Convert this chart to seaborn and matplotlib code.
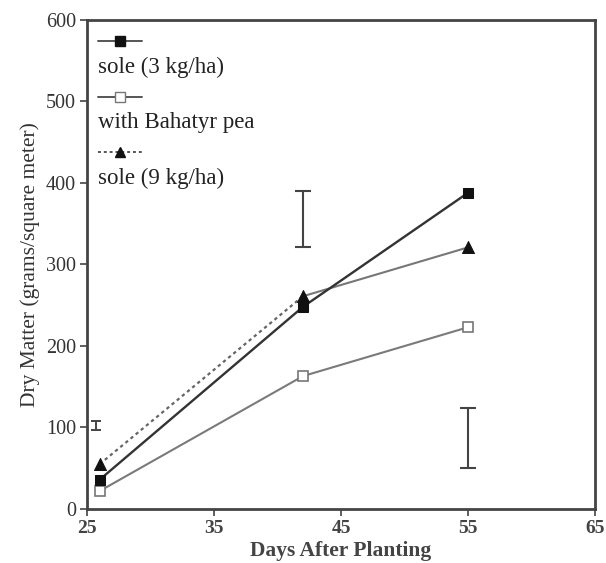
import pandas as pd
import seaborn as sns
import matplotlib.pyplot as plt

# Data
days = [26, 42, 55]
sole_3 = [36, 248, 388]
with_pea = [22, 163, 223]
sole_9 = [55, 261, 321]

# LSD bars
lsd_days = [25.7, 42, 55]
lsd_low = [97, 321, 50]
lsd_high = [108, 390, 124]

x_ticks = [25, 35, 45, 55, 65]
y_ticks = [0, 100, 200, 300, 400, 500, 600]

sns.set_style("white")
plt.rcParams['font.family'] = ['Liberation Serif', 'DejaVu Serif']

fig = plt.figure(figsize=(6.06, 5.63), dpi=100)
ax = fig.add_axes([0.1436, 0.096, 0.8384, 0.8685])

df3 = pd.DataFrame({'day': days, 'dm': sole_3})
dfp = pd.DataFrame({'day': days, 'dm': with_pea})
df9 = pd.DataFrame({'day': days, 'dm': sole_9})

sns.lineplot(data=dfp, x='day', y='dm', ax=ax, color='#7a7a7a', lw=1.5,
             marker='s', markersize=7, markerfacecolor='white',
             markeredgecolor='#777777', markeredgewidth=1.2)
# triangle series: dotted first segment, solid afterwards
sns.lineplot(data=df9.iloc[:2], x='day', y='dm', ax=ax, color='#666666', lw=1.6,
             linestyle=(0, (1.5, 1.5)))
sns.lineplot(data=df9.iloc[1:], x='day', y='dm', ax=ax, color='#777777', lw=1.5)
sns.scatterplot(data=df9, x='day', y='dm', ax=ax, marker='^', s=75,
                color='#111111', edgecolor='#111111', zorder=5)
sns.lineplot(data=df3, x='day', y='dm', ax=ax, color='#333333', lw=1.7,
             marker='s', markersize=7, markerfacecolor='#111111',
             markeredgecolor='#111111')

# LSD bars (the first one is drawn narrower)
mid = [(a + b) / 2 for a, b in zip(lsd_low, lsd_high)]
half = [(b - a) / 2 for a, b in zip(lsd_low, lsd_high)]
ax.errorbar(lsd_days[:1], mid[:1], yerr=half[:1], fmt='none', ecolor='#444444',
            elinewidth=1.4, capsize=3.5, capthick=1.4)
ax.errorbar(lsd_days[1:], mid[1:], yerr=half[1:], fmt='none', ecolor='#444444',
            elinewidth=1.5, capsize=6, capthick=1.5)

ax.set_xlim(25, 65)
ax.set_ylim(0, 600)
ax.set_xticks(x_ticks)
ax.set_yticks(y_ticks)
ax.set_xticklabels([str(t) for t in x_ticks], fontsize=14, fontweight='bold',
                   color='#444444')
ax.set_yticklabels([str(t) for t in y_ticks], fontsize=14.5, color='#333333')
ax.tick_params(direction='out', length=5, width=1.2, color='#444444',
               bottom=True, left=True, pad=3)
for sp in ax.spines.values():
    sp.set_linewidth(2)
    sp.set_color('#444444')

ax.set_xlabel('Days After Planting', fontsize=15.5, fontweight='bold',
              color='#444444', labelpad=3)
ax.set_ylabel('Dry Matter (grams/square meter)', fontsize=15.5,
              color='#333333', labelpad=4)

# legend: sample line above each label
entries = [
    ('sole (3 kg/ha)', 's', '#111111', '#111111', '-', 0.958, 0.904),
    ('with Bahatyr pea', 's', 'white', '#777777', '-', 0.842, 0.791),
    ('sole (9 kg/ha)', '^', '#111111', '#111111', (0, (1.5, 1.5)), 0.730, 0.677),
]
for label, mk, fc, ec, ls, ys, yt in entries:
    ax.plot([0.022, 0.108], [ys, ys], transform=ax.transAxes, color='#555555',
            lw=1.4, linestyle=ls, clip_on=False)
    ax.plot([0.065], [ys], transform=ax.transAxes, marker=mk, markersize=6.5,
            markerfacecolor=fc, markeredgecolor=ec, linestyle='none',
            clip_on=False)
    ax.text(0.022, yt, label, transform=ax.transAxes, fontsize=16.5,
            va='center', ha='left', color='#222222')

fig.savefig('out.png', dpi=100, facecolor='white')
